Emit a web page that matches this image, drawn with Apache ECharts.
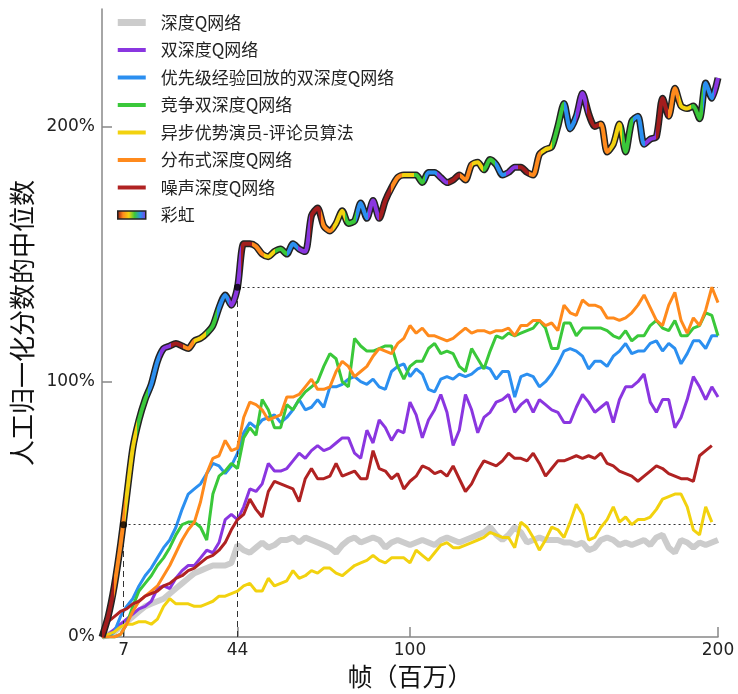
<!DOCTYPE html>
<html>
<head>
<meta charset="utf-8">
<script src="https://cdn.jsdelivr.net/npm/echarts@6/dist/echarts.min.js"></script>
<style>
  html, body { margin: 0; padding: 0; background: #fff; }
  #main { width: 738px; height: 694px; }
</style>
</head>
<body>
<div id="main"></div>
<script>
// 帧（百万）
const frames = [0, 2, 4, 6, 8, 10, 12, 14, 16, 18, 20, 22, 24, 26, 28, 30, 32, 34, 36, 38,
  40, 42, 44, 46, 48, 50, 52, 54, 56, 58, 60, 62, 64, 66, 68, 70, 72, 74, 76, 78,
  80, 82, 84, 86, 88, 90, 92, 94, 96, 98, 100, 102, 104, 106, 108, 110, 112, 114, 116, 118,
  120, 122, 124, 126, 128, 130, 132, 134, 136, 138, 140, 142, 144, 146, 148, 150, 152, 154, 156, 158,
  160, 162, 164, 166, 168, 170, 172, 174, 176, 178, 180, 182, 184, 186, 188, 190, 192, 194, 196, 198, 200]

// 各算法的人工归一化分数中位数 (%)
const dqn = [0, 1, 2, 4, 6, 8, 10, 12, 13, 14, 15, 17, 19, 21, 23, 25, 26, 27, 28, 28,
  28, 29, 36, 34, 33, 35, 37, 35, 36, 38, 38, 39, 37, 39, 38, 37, 36, 35, 33, 36,
  38, 39, 37, 38, 39, 38, 35, 37, 38, 37, 36, 37, 38, 37, 36, 38, 39, 38, 37, 38,
  39, 40, 41, 43, 40, 38, 40, 43, 41, 37, 38, 39, 38, 38, 38, 37, 37, 36, 37, 34,
  35, 38, 39, 38, 36, 37, 36, 37, 38, 36, 39, 40, 35, 33, 38, 37, 35, 37, 36, 37, 38]
const ddqn = [0, 1, 3, 5, 7, 9, 11, 12, 14, 19, 20, 19, 23, 26, 28, 28, 31, 34, 33, 37,
  46, 48, 46, 51, 58, 57, 60, 68, 65, 65, 66, 69, 72, 70, 73, 75, 73, 74, 76, 78,
  78, 72, 70, 81, 76, 85, 82, 77, 81, 80, 92, 87, 78, 85, 89, 95, 88, 75, 81, 95,
  89, 80, 86, 88, 92, 93, 95, 88, 91, 93, 88, 93, 91, 89, 88, 84, 84, 90, 95, 92,
  88, 90, 92, 84, 93, 98, 98, 100, 103, 92, 88, 93, 93, 82, 86, 93, 102, 98, 93, 98, 94]
const prioritized = [0, 0, 2, 8, 12, 15, 20, 24, 27, 31, 35, 38, 43, 50, 56, 58, 60, 64, 68, 67,
  64, 67, 72, 80, 84, 82, 85, 86, 87, 84, 86, 89, 93, 89, 90, 93, 90, 98, 98, 99,
  101, 102, 100, 99, 101, 98, 97, 104, 106, 107, 102, 105, 103, 97, 96, 101, 102, 101, 103, 102,
  103, 105, 106, 105, 101, 104, 104, 94, 102, 103, 102, 98, 100, 103, 107, 112, 113, 112, 110, 105,
  108, 108, 106, 110, 112, 115, 111, 112, 112, 115, 116, 112, 115, 113, 107, 111, 116, 116, 113, 118, 118]
const dueling = [0, 0, 0, 1, 5, 12, 18, 21, 24, 28, 31, 35, 40, 44, 45, 45, 43, 38, 56, 63,
  65, 68, 66, 78, 82, 79, 93, 89, 82, 82, 91, 89, 93, 96, 98, 100, 106, 111, 109, 100,
  98, 117, 114, 112, 112, 113, 114, 114, 106, 101, 106, 108, 108, 113, 115, 111, 112, 111, 106, 104,
  113, 109, 105, 112, 118, 117, 119, 118, 119, 120, 121, 124, 121, 113, 113, 123, 123, 118, 121, 121,
  121, 121, 120, 118, 117, 120, 116, 118, 118, 122, 124, 121, 120, 124, 118, 118, 121, 122, 127, 126, 118]
const a3c = [0, 1, 2, 4, 5, 5, 6, 6, 5, 7, 12, 15, 13, 13, 13, 12, 12, 13, 14, 16,
  16, 17, 18, 20, 21, 18, 18, 23, 20, 21, 22, 26, 23, 24, 26, 25, 27, 27, 25, 24,
  26, 28, 29, 30, 32, 30, 29, 31, 31, 31, 29, 34, 32, 30, 33, 36, 37, 35, 35, 36,
  37, 38, 39, 41, 40, 39, 39, 35, 45, 43, 39, 34, 38, 43, 42, 39, 45, 52, 48, 38,
  39, 43, 46, 51, 45, 47, 44, 46, 46, 47, 50, 54, 55, 56, 56, 51, 42, 40, 51, 45, null]
const distributional = [0, 0, 0, 1, 5, 10, 14, 16, 18, 20, 24, 28, 33, 38, 42, 45, 53, 64, 70, 71,
  77, 73, 74, 86, 92, 91, 89, 85, 86, 87, 94, 94, 95, 98, 101, 97, 97, 98, 104, 108,
  106, 102, 104, 106, 110, 113, 112, 111, 115, 117, 122, 119, 121, 118, 118, 117, 116, 117, 119, 121,
  119, 120, 120, 119, 120, 120, 121, 118, 122, 122, 124, 124, 122, 123, 120, 130, 127, 126, 132, 130,
  130, 129, 125, 125, 124, 125, 127, 130, 134, 129, 124, 122, 130, 135, 124, 119, 125, 122, 128, 137, 131]
const noisy = [0, 6, 8, 10, 11, 13, 14, 16, 17, 18, 20, 21, 23, 24, 26, 27, 29, 31, 32, 34,
  37, 42, 46, 48, 54, 50, 47, 57, 61, 60, 59, 58, 53, 62, 66, 62, 62, 63, 68, 63,
  64, 65, 62, 62, 73, 66, 65, 62, 64, 58, 61, 63, 67, 66, 64, 65, 63, 67, 62, 57,
  60, 65, 69, 68, 67, 69, 72, 70, 70, 69, 72, 68, 63, 66, 69, 69, 70, 71, 70, 71,
  70, 72, 68, 67, 65, 64, 63, 61, 63, 65, 67, 66, 64, 63, 62, 62, 61, 71, 73, 75, null]
const rainbow = [0, 8, 20, 36, 55, 74, 85, 93, 99, 108, 113, 114, 115, 114, 113, 116, 117, 119, 122, 129,
  134, 130, 137, 154, 154, 153, 150, 149, 151, 152, 150, 154, 152, 151, 165, 168, 161, 159, 162, 167,
  162, 163, 170, 164, 171, 164, 171, 176, 180, 181, 181, 181, 178, 182, 182, 180, 178, 179, 181, 179,
  185, 186, 183, 187, 185, 181, 182, 184, 184, 182, 181, 189, 191, 192, 200, 209, 199, 204, 213, 205,
  200, 201, 190, 193, 201, 190, 202, 204, 193, 195, 196, 211, 204, 215, 208, 207, 208, 203, 217, 211, 219]

// 参考线：彩虹达到基线最终成绩的帧数
const refFrames = [7, 44]
const refScores = [44, 137]

const xTicks = [7, 44, 100, 200]
const yTicks = [0, 100, 200]

const names = ['深度Q网络', '双深度Q网络', '优先级经验回放的双深度Q网络', '竞争双深度Q网络',
  '异步优势演员-评论员算法', '分布式深度Q网络', '噪声深度Q网络', '彩虹']
const colors = ['#cccccc', '#8a36e0', '#2b8ff0', '#3ac83a', '#f2d20f', '#ff8a1c', '#b02222']
const baselines = [dqn, ddqn, prioritized, dueling, a3c, distributional, noisy]

// 彩虹线的颜色循环
const rainbowCycle = ['#a31d1d', '#ff8a1c', '#f2d20f', '#3ac83a', '#2b8ff0', '#8a36e0']
const pieces = []
for (let i = 0; i * 3.75 < 201; i++) {
  pieces.push({ gte: i * 3.75, lt: (i + 1) * 3.75, color: rainbowCycle[i % 6] })
}

function pairs (ys) {
  return frames.map((f, i) => [f, ys[i]])
}

const myChart = echarts.init(document.getElementById('main'))

const series = baselines.map((ys, i) => ({
  name: names[i],
  type: 'line',
  data: pairs(ys),
  showSymbol: false,
  symbol: 'none',
  z: 2 + i,
  lineStyle: { color: colors[i], width: i === 0 ? 6 : 3 },
  itemStyle: { color: colors[i] }
}))

series.push({
  name: 'rainbowEdge',
  type: 'line',
  data: pairs(rainbow),
  smooth: 0.25,
  symbol: 'none',
  z: 10,
  lineStyle: { color: '#222', width: 7 }
})
series.push({
  name: '彩虹',
  type: 'line',
  data: pairs(rainbow),
  smooth: 0.25,
  symbol: 'none',
  z: 11,
  lineStyle: { width: 4 }
})
series.push({
  name: 'ref',
  type: 'line',
  data: [],
  z: 12,
  markLine: {
    silent: true,
    symbol: 'none',
    label: { show: false },
    data: [
      [{ coord: [refFrames[0], 0], lineStyle: { type: [6, 4] } }, { coord: [refFrames[0], refScores[0]] }],
      [{ coord: [refFrames[1], 0], lineStyle: { type: [6, 4] } }, { coord: [refFrames[1], refScores[1]] }],
      [{ coord: [refFrames[0], refScores[0]], lineStyle: { type: [2, 3] } }, { coord: [200, refScores[0]] }],
      [{ coord: [refFrames[1], refScores[1]], lineStyle: { type: [2, 3] } }, { coord: [200, refScores[1]] }]
    ],
    lineStyle: { color: '#333', width: 1 }
  }
})
series.push({
  name: 'refPoint',
  type: 'scatter',
  data: refFrames.map((f, i) => [f, refScores[i]]),
  symbolSize: 7,
  z: 13,
  itemStyle: { color: '#000' }
})

const legendData = names.map((n, i) => {
  if (i === 7) {
    return {
      name: n,
      icon: 'path://M0,0H28V8H0Z',
      itemStyle: {
        color: new echarts.graphic.LinearGradient(0, 0, 1, 0, [
          { offset: 0, color: '#8a1010' },
          { offset: 0.2, color: '#ff8a1c' },
          { offset: 0.4, color: '#f2d20f' },
          { offset: 0.6, color: '#3ac83a' },
          { offset: 0.8, color: '#2b8ff0' },
          { offset: 1, color: '#8a36e0' }
        ]),
        borderColor: '#222',
        borderWidth: 1.5
      }
    }
  }
  return { name: n, icon: i === 0 ? 'path://M0,0H28V7H0Z' : 'path://M0,0H28V4H0Z' }
})

const option = {
  animation: false,
  backgroundColor: '#fff',
  grid: { left: 102, right: 20, top: 9, bottom: 57 },
  legend: {
    orient: 'vertical',
    left: 112,
    top: 9,
    itemWidth: 28,
    itemHeight: 8,
    itemGap: 10.5,
    data: legendData,
    textStyle: {
      fontFamily: 'Noto Sans CJK SC',
      fontSize: 17,
      color: '#222',
      padding: [0, 0, 0, 10]
    }
  },
  visualMap: {
    show: false,
    type: 'piecewise',
    dimension: 0,
    seriesIndex: 8,
    pieces: pieces
  },
  xAxis: {
    type: 'value',
    min: 0,
    max: 200,
    name: '帧（百万）',
    nameLocation: 'middle',
    nameGap: 20,
    nameTextStyle: { fontFamily: 'Noto Sans CJK SC', fontSize: 25, color: '#111' },
    splitLine: { show: false },
    axisLine: { lineStyle: { color: '#888', width: 1.5 } },
    axisTick: { inside: true, length: 10, customValues: xTicks, lineStyle: { color: '#888', width: 1.5 } },
    axisLabel: { customValues: xTicks, margin: 5, fontFamily: 'DejaVu Sans', fontSize: 17, color: '#222' }
  },
  yAxis: {
    type: 'value',
    min: 0,
    max: 246,
    name: '人工归一化分数的中位数',
    nameLocation: 'middle',
    nameRotate: 90,
    nameGap: 52,
    nameTextStyle: { fontFamily: 'Noto Sans CJK SC', fontSize: 26, color: '#111' },
    splitLine: { show: false },
    axisLine: { show: true, lineStyle: { color: '#888', width: 1.5 } },
    axisTick: { show: true, inside: true, length: 10, customValues: yTicks, lineStyle: { color: '#888', width: 1.5 } },
    axisLabel: { customValues: yTicks, formatter: '{value}%', margin: 7, fontFamily: 'DejaVu Sans', fontSize: 17, color: '#222' }
  },
  series: series
}
myChart.setOption(option)
</script>
</body>
</html>
